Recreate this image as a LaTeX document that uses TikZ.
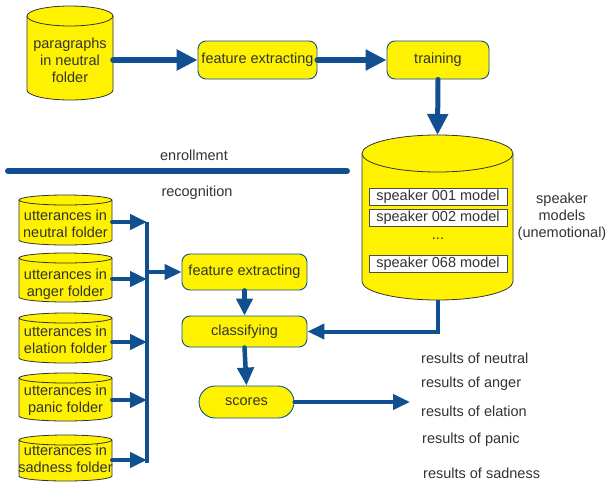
\documentclass[tikz,border=0pt]{standalone}
\usepackage{fontspec}
\setmainfont{Liberation Sans}
\usetikzlibrary{arrows.meta,calc}
\definecolor{yel}{RGB}{255,242,0}
\definecolor{dblue}{RGB}{16,80,145}
\definecolor{txt}{RGB}{51,51,51}
\newcommand{\drawcyl}[5]{%
  \pgfmathsetmacro\cylrx{(#2-#1)/2}%
  \filldraw[cylstyle] (#1,-#3) -- (#1,-#4) arc[start angle=180,end angle=360,x radius=\cylrx pt,y radius=#5 pt] -- (#2,-#3) arc[start angle=0,end angle=180,x radius=\cylrx pt,y radius=#5 pt] -- cycle;
  \draw[cylstyle] (#1,-#3) arc[start angle=180,end angle=360,x radius=\cylrx pt,y radius=#5 pt];
}
\begin{document}
\begin{tikzpicture}[x=1pt,y=1pt,
  every node/.style={text=txt,font=\fontsize{14.5}{17}\selectfont},
  cylstyle/.style={fill=yel,draw=black!80,line width=0.8pt},
  boxst/.style={draw=dblue,fill=yel,line width=0.9pt,rounded corners=8pt,inner sep=0pt},
  cyltext/.style={inner sep=0pt,align=center},
  modelbox/.style={draw=black!70,fill=white,line width=0.8pt,minimum width=138pt,minimum height=17pt,inner sep=0pt},
  arr/.style={draw=dblue,line width=4pt,line cap=round,-{Triangle[length=17pt,width=15pt]}},
  bigarr/.style={draw=dblue,line width=6pt,line cap=round,-{Triangle[length=21pt,width=20pt]}},
  busline/.style={draw=dblue,line width=4pt},
  resl/.style={anchor=west,inner sep=0pt}]
\useasboundingbox (0,0) rectangle (609,-482);
\fill[white] (0,0) rectangle (609,-482);

% top cylinder
\drawcyl{27}{113}{16}{90}{10}
\node[cyltext,minimum width=86pt] (p1) at (70,-60) {paragraphs\\in neutral\\folder};

% boxes
\node[boxst,minimum width=119pt,minimum height=38pt] (fe1) at (257.5,-60) {feature extracting};
\node[boxst,minimum width=102pt,minimum height=38pt] (train) at (438,-60) {training};
\node[boxst,minimum width=125pt,minimum height=36pt] (fe2) at (244.5,-272) {feature extracting};
\node[boxst,minimum width=125pt,minimum height=31pt] (cls) at (244.5,-331.5) {classifying};
\node[boxst,rounded corners=16pt,minimum width=95pt,minimum height=32pt] (scores) at (246.5,-402) {scores};

% speaker models cylinder
\drawcyl{362}{513}{153.5}{281.5}{18.5}
\node[inner sep=0pt,minimum width=151pt,minimum height=128pt] (sm) at (437.5,-217.5) {};
\coordinate (smt) at (437.5,-135);
\coordinate (smb) at (437.5,-300);
\node[modelbox] (m1) at (438,-196.5) {speaker 001 model};
\node[modelbox] (m2) at (438,-217.5) {speaker 002 model};
\node (dots) at (438,-239) {...};
\node[modelbox] (m3) at (438,-263.5) {speaker 068 model};
\node[align=center,inner sep=0pt] (smlab) at (562,-216.5) {speaker\\models\\(unemotional)};

% enrollment / recognition
\coordinate (e1) at (8,-171);
\coordinate (e2) at (347,-171);
\draw[dblue,line width=6pt,line cap=round] (e1) -- (e2);
\node (enr) at (194,-155) {enrollment};
\node (rec) at (197,-193) {recognition};

% small cylinders
\drawcyl{19}{112}{200}{240}{5}
\drawcyl{19}{112}{258}{297}{5}
\drawcyl{19}{112}{318}{358}{5}
\drawcyl{19}{112}{378}{416}{5}
\drawcyl{19}{112}{440}{476}{5}
\node[cyltext,minimum width=93pt] (u1) at (65.5,-223.5) {utterances in\\neutral folder};
\node[cyltext,minimum width=93pt] (u2) at (65.5,-284.5) {utterances in\\anger folder};
\node[cyltext,minimum width=93pt] (u3) at (65.5,-339.5) {utterances in\\elation folder};
\node[cyltext,minimum width=93pt] (u4) at (65.5,-400.5) {utterances in\\panic folder};
\node[cyltext,minimum width=93pt] (u5) at (65.5,-458.5) {utterances in\\sadness folder};
\coordinate (u1o) at (112,-222);
\coordinate (u2o) at (112,-279);
\coordinate (u3o) at (112,-342);
\coordinate (u4o) at (112,-400);
\coordinate (u5o) at (112,-460);

% bus
\coordinate (bt) at (147,-222);
\coordinate (bb) at (147,-463);
\coordinate (bm) at (147,-272);
\draw[busline] (bt) -- (bb);
\draw[arr] (u1o) -- (u1o -| bt);
\draw[arr] (u2o) -- (u2o -| bt);
\draw[arr] (u3o) -- (u3o -| bt);
\draw[arr] (u4o) -- (u4o -| bt);
\draw[arr] (u5o) -- (u5o -| bt);
\draw[arr] (bm) -- (fe2.west);

% enrollment arrows
\draw[bigarr] (p1.east) -- (fe1.west);
\draw[bigarr] (fe1.east) -- (train.west);
\draw[draw=dblue,line width=5pt,line cap=round,-{Triangle[length=21pt,width=20pt]}] (train.south) -- (smt);

% recognition arrows
\draw[arr,line width=4.5pt,-{Triangle[length=17pt,width=16pt]}] (fe2.south) -- (cls.north);
\draw[arr,line width=4.5pt,-{Triangle[length=18pt,width=16pt]}] (cls.south) -- (scores.north);
\draw[arr,line cap=butt] (smb) |- (cls.east);
\coordinate (res) at (410,-402);
\draw[arr] (scores.east) -- (res);

% results
\node[resl] (r1) at (421,-358) {results of neutral};
\node[resl] (r2) at (421,-384) {results of anger};
\node[resl] (r3) at (421,-411) {results of elation};
\node[resl] (r4) at (422,-440) {results of panic};
\node[resl] (r5) at (423,-473) {results of sadness};
\end{tikzpicture}
\end{document}
